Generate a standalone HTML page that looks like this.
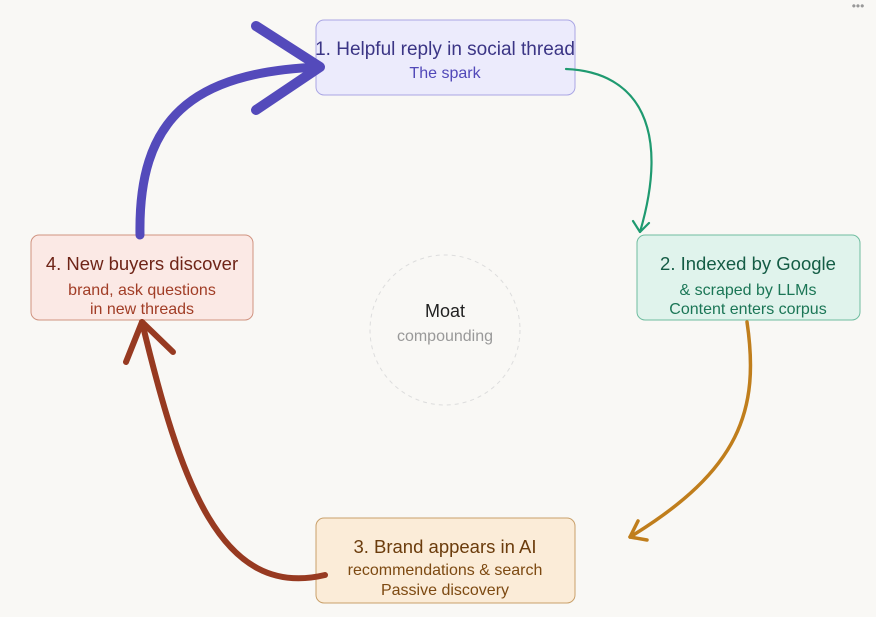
<!DOCTYPE html>
<html><head><meta charset="utf-8"><style>
html,body{margin:0;padding:0;background:#f9f8f5;width:876px;height:617px;overflow:hidden}
svg{display:block;font-family:"Liberation Sans",sans-serif}
</style></head><body>
<svg width="876" height="617" viewBox="0 0 876 617">
<rect width="876" height="617" fill="#f9f8f5"/>
<text x="858" y="10" font-size="12" fill="#999" text-anchor="middle">•••</text>
<circle cx="445" cy="330" r="75" fill="none" stroke="#ddd" stroke-dasharray="4 4"/>
<text x="445" y="317" font-size="18" fill="#222" text-anchor="middle">Moat</text>
<text x="445" y="341" font-size="16" fill="#999" text-anchor="middle">compounding</text>

<rect x="316" y="20" width="259" height="75" rx="8" fill="#ecebfc" stroke="#aaa6e4"/>
<text x="445" y="55" font-size="19" fill="#3b3585" text-anchor="middle">1. Helpful reply in social thread</text>
<text x="445" y="78" font-size="16" fill="#5148b8" text-anchor="middle">The spark</text>

<rect x="637" y="235" width="223" height="85" rx="8" fill="#e0f3ec" stroke="#6fbda0"/>
<text x="748" y="270" font-size="18.5" fill="#145c45" text-anchor="middle">2. Indexed by Google</text>
<text x="748" y="295" font-size="16" fill="#1b7656" text-anchor="middle">&amp; scraped by LLMs</text>
<text x="748" y="314" font-size="16" fill="#1b7656" text-anchor="middle">Content enters corpus</text>

<rect x="316" y="518" width="259" height="85" rx="8" fill="#fbecd8" stroke="#c9a06a"/>
<text x="445" y="553" font-size="18.5" fill="#6b3c0c" text-anchor="middle">3. Brand appears in AI</text>
<text x="445" y="575" font-size="16" fill="#7d4a12" text-anchor="middle">recommendations &amp; search</text>
<text x="445" y="595" font-size="16" fill="#7d4a12" text-anchor="middle">Passive discovery</text>

<rect x="31" y="235" width="222" height="85" rx="8" fill="#fbe9e5" stroke="#d09380"/>
<text x="142" y="270" font-size="18.5" fill="#6e2417" text-anchor="middle">4. New buyers discover</text>
<text x="142" y="295" font-size="16" fill="#a13d26" text-anchor="middle">brand, ask questions</text>
<text x="142" y="314" font-size="16" fill="#a13d26" text-anchor="middle">in new threads</text>

<g fill="none" stroke-linecap="round" stroke-linejoin="round">
<path d="M140,235 C138,120 190,72 320,67" stroke="#544abb" stroke-width="9"/>
<path d="M256,26 L320,67 L256,110" stroke="#544abb" stroke-width="10"/>
<path d="M566,69 C640,72 670,130 640,232" stroke="#1f9a70" stroke-width="2.2"/>
<path d="M633,221 L640,232 L649,223" stroke="#1f9a70" stroke-width="2.2"/>
<path d="M747,322 C760,410 740,470 630,537" stroke="#c07e1c" stroke-width="3.5"/>
<path d="M638,521 L630,537 L647,540" stroke="#c07e1c" stroke-width="3.5"/>
<path d="M325,575 C220,600 180,480 142,322" stroke="#973a21" stroke-width="6"/>
<path d="M126,362 L142,322 L173,352" stroke="#973a21" stroke-width="6"/>
</g>
</svg>
</body></html>
